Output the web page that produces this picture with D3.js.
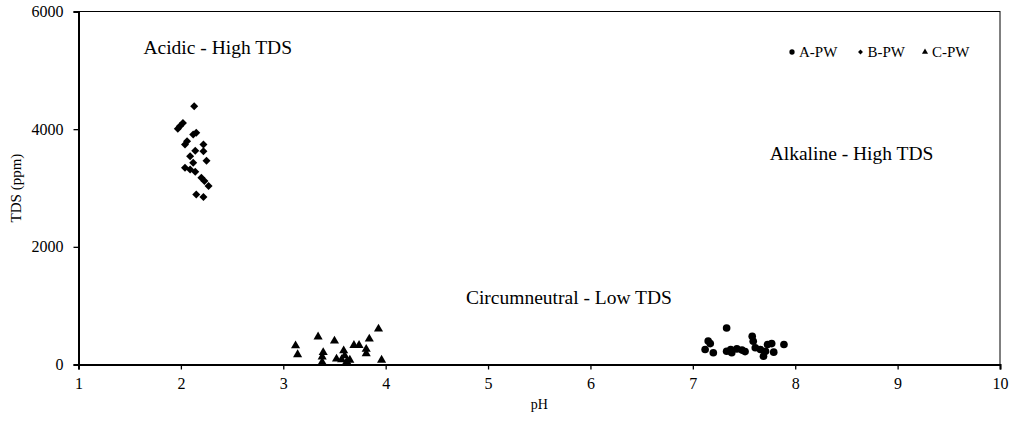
<!DOCTYPE html>
<meta charset="utf-8">
<script src="https://cdnjs.cloudflare.com/ajax/libs/d3/7.8.5/d3.min.js"></script>
<style>
  body { margin: 0; background: #fff; }
  text { font-family: "Liberation Serif", "Times New Roman", serif; fill: #000; }
</style>
<div id="chart"></div>
<script>
  // A-PW (circles)
  const phA = [7.33, 7.15, 7.17, 7.12, 7.20, 7.33, 7.37, 7.38, 7.43, 7.48, 7.51, 7.58, 7.59, 7.61, 7.66, 7.71, 7.69, 7.73, 7.77, 7.79, 7.89]
  const tdsA = [620, 400, 355, 255, 200, 225, 255, 200, 265, 245, 220, 480, 395, 285, 255, 225, 140, 340, 355, 210, 340]
  // B-PW (diamonds)
  const phB = [2.13, 1.99, 2.02, 1.97, 2.15, 2.12, 2.06, 2.04, 2.22, 2.14, 2.22, 2.09, 2.25, 2.12, 2.04, 2.09, 2.14, 2.20, 2.23, 2.27, 2.15, 2.22]
  const tdsB = [4390, 4050, 4105, 4005, 3940, 3910, 3795, 3740, 3740, 3635, 3625, 3540, 3465, 3430, 3345, 3315, 3275, 3175, 3120, 3035, 2890, 2845]
  // C-PW (triangles)
  const phC = [3.12, 3.14, 3.34, 3.50, 3.39, 3.38, 3.38, 3.59, 3.69, 3.74, 3.84, 3.93, 3.81, 3.81, 3.52, 3.57, 3.62, 3.65, 3.60, 3.96]
  const tdsC = [320, 170, 470, 400, 205, 130, 40, 235, 325, 325, 435, 605, 260, 185, 95, 85, 50, 75, 150, 75]

  const xTicks = [1, 2, 3, 4, 5, 6, 7, 8, 9, 10]
  const yTicks = [0, 2000, 4000, 6000]

  const zoneLabels = ['Acidic - High TDS', 'Alkaline - High TDS', 'Circumneutral - Low TDS']
  const zonePh = [2.36, 8.55, 5.79]
  const zoneTds = [5400, 3600, 1150]

  const seriesNames = ['A-PW', 'B-PW', 'C-PW']

  const W = 1012, H = 425
  const margin = { top: 11.5, right: 12, bottom: 60.5, left: 78.5 }
  const width = W - margin.left - margin.right
  const height = H - margin.top - margin.bottom

  const svg = d3.select('#chart').append('svg')
    .attr('width', W).attr('height', H)
  const g = svg.append('g')
    .attr('transform', 'translate(' + margin.left + ',' + margin.top + ')')

  const x = d3.scaleLinear().domain([1, 10]).range([0, width])
  const y = d3.scaleLinear().domain([0, 6000]).range([height, 0])

  // frame
  g.append('rect')
    .attr('width', width).attr('height', height)
    .attr('fill', 'none').attr('stroke', '#000').attr('stroke-width', 1)

  const xAxis = g.append('g')
    .attr('transform', 'translate(0,' + height + ')')
    .call(d3.axisBottom(x).tickValues(xTicks).tickFormat(d3.format('d')).tickSize(5).tickPadding(8))
  const yAxis = g.append('g')
    .call(d3.axisLeft(y).tickValues(yTicks).tickFormat(d3.format('d')).tickSize(5).tickPadding(10))

  ;[xAxis, yAxis].forEach(a => {
    a.select('.domain').attr('stroke-width', 2)
    a.selectAll('.tick line').attr('stroke-width', 1.3)
    a.selectAll('text').style('font-size', '16px').attr('font-family', null)
  })

  // axis titles
  g.append('text')
    .attr('x', width / 2).attr('y', height + 44)
    .attr('text-anchor', 'middle').style('font-size', '14px')
    .text('pH')
  g.append('text')
    .attr('transform', 'translate(' + (-58) + ',' + (height / 2) + ') rotate(-90)')
    .attr('text-anchor', 'middle').style('font-size', '15px')
    .text('TDS (ppm)')

  // zone annotations
  zoneLabels.forEach((t, i) => {
    g.append('text')
      .attr('x', x(zonePh[i])).attr('y', y(zoneTds[i]))
      .attr('dy', '0.35em')
      .attr('text-anchor', 'middle').style('font-size', '19.5px')
      .text(t)
  })

  const circle = d3.symbol().type(d3.symbolCircle).size(46)
  const diamond = d3.symbol().type(d3.symbolSquare).size(32)
  const triangle = d3.symbol().type(d3.symbolTriangle).size(36)

  const ptsA = phA.map((p, i) => ({ ph: p, tds: tdsA[i] }))
  const ptsB = phB.map((p, i) => ({ ph: p, tds: tdsB[i] }))
  const ptsC = phC.map((p, i) => ({ ph: p, tds: tdsC[i] }))

  g.selectAll('.pa').data(ptsA).enter().append('path')
    .attr('d', circle)
    .attr('transform', d => 'translate(' + x(d.ph) + ',' + y(d.tds) + ')')
  g.selectAll('.pb').data(ptsB).enter().append('path')
    .attr('d', diamond)
    .attr('transform', d => 'translate(' + x(d.ph) + ',' + y(d.tds) + ') rotate(45)')
  g.selectAll('.pc').data(ptsC).enter().append('path')
    .attr('d', triangle)
    .attr('transform', d => 'translate(' + x(d.ph) + ',' + y(d.tds) + ')')

  // legend
  const legendX = [792, 860.5, 925]
  const legendSyms = [
    d3.symbol().type(d3.symbolCircle).size(22)(),
    d3.symbol().type(d3.symbolSquare).size(12)(),
    d3.symbol().type(d3.symbolTriangle).size(16)()
  ]
  const legend = svg.append('g').attr('transform', 'translate(0,52)')
  seriesNames.forEach((n, i) => {
    legend.append('path')
      .attr('d', legendSyms[i])
      .attr('transform', 'translate(' + legendX[i] + ',0)' + (i === 1 ? ' rotate(45)' : ''))
    legend.append('text')
      .attr('x', legendX[i] + 7).attr('y', 0).attr('dy', '0.35em')
      .style('font-size', '15px')
      .text(n)
  })
</script>
